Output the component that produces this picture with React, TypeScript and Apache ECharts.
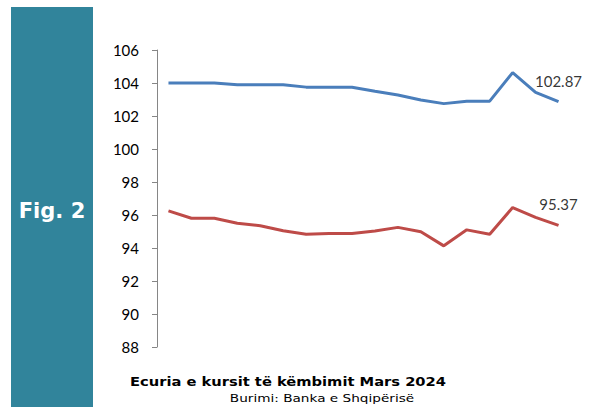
import React, { useEffect, useRef } from "react";
import * as echarts from "echarts";

const categories = ["1","2","3","4","5","6","7","8","9","10","11","12","13","14","15","16","17","18"];
const blueSeries = [104.0, 104.0, 104.0, 103.9, 103.9, 103.9, 103.75, 103.75, 103.74, 103.5, 103.27, 102.97, 102.75, 102.9, 102.9, 104.63, 103.43, 102.87];
const redSeries = [96.25, 95.8, 95.8, 95.5, 95.35, 95.05, 94.83, 94.88, 94.88, 95.03, 95.25, 94.99, 94.13, 95.1, 94.83, 96.45, 95.86, 95.37];
const yMin = 88;
const yMax = 106;
const yInterval = 2;
const titleText = "Ecuria e kursit të këmbimit Mars 2024";
const sourceText = "Burimi: Banka e Shqipërisë";
const figText = "Fig. 2";

export default function App() {
  const ref = useRef<HTMLDivElement>(null);
  useEffect(() => {
    if (!ref.current) return;
    const chart = echarts.init(ref.current, undefined, { renderer: "svg" });
    const last = categories.length - 1;
    const endPoint = (vals: number[]) => ({
      type: "scatter",
      data: [[categories[last], vals[last]]],
      symbol: "circle",
      symbolSize: 1,
      itemStyle: { color: "transparent" },
      silent: true,
      label: {
        show: true,
        position: "top",
        distance: 13,
        formatter: (p: any) => Number(p.value[1]).toFixed(2),
        color: "#000",
        fontSize: 15,
        fontFamily: "Lato, 'Open Sans', sans-serif",
      },
      z: 5,
    });
    chart.setOption({
      animation: false,
      backgroundColor: "#fff",
      grid: { left: 157, top: 50, right: 22, bottom: 60 },
      xAxis: {
        type: "category",
        data: categories,
        boundaryGap: true,
        axisLine: { show: false },
        axisTick: { show: false },
        axisLabel: { show: false },
        splitLine: { show: false },
      },
      yAxis: {
        type: "value",
        min: yMin,
        max: yMax,
        interval: yInterval,
        axisLine: { show: true, lineStyle: { color: "#868686", width: 1 } },
        axisTick: { show: true, length: 5, lineStyle: { color: "#868686" } },
        axisLabel: {
          color: "#000",
          fontSize: 15,
          margin: 18,
          fontFamily: "Lato, 'Open Sans', sans-serif",
        },
        splitLine: { show: false },
      },
      series: [
        {
          type: "line",
          data: blueSeries,
          symbol: "none",
          lineStyle: { color: "#4A7EBB", width: 3 },
          itemStyle: { color: "#4A7EBB" },
        },
        {
          type: "line",
          data: redSeries,
          symbol: "none",
          lineStyle: { color: "#BE4B48", width: 3 },
          itemStyle: { color: "#BE4B48" },
        },
        endPoint(blueSeries),
        endPoint(redSeries),
      ],
      graphic: [
        {
          type: "rect",
          shape: { x: 11, y: 7, width: 82, height: 400 },
          style: { fill: "#31849B" },
        },
        {
          type: "text",
          x: 52,
          y: 211,
          style: {
            text: figText,
            fill: "#fff",
            fontSize: 21,
            fontWeight: "bold",
            fontFamily: "'DejaVu Sans', sans-serif",
            textAlign: "center",
            textVerticalAlign: "middle",
          },
        },
        {
          type: "text",
          x: 288,
          y: 381,
          scaleX: 1.13,
          style: {
            text: titleText,
            fill: "#000",
            fontSize: 13,
            fontWeight: "bold",
            fontFamily: "'DejaVu Sans', sans-serif",
            textAlign: "center",
            textVerticalAlign: "middle",
          },
        },
        {
          type: "text",
          x: 322,
          y: 398,
          scaleX: 1.24,
          style: {
            text: sourceText,
            fill: "#000",
            fontSize: 11,
            fontFamily: "'DejaVu Sans', sans-serif",
            textAlign: "center",
            textVerticalAlign: "middle",
          },
        },
      ],
    });
    return () => chart.dispose();
  }, []);
  return (
    <div
      ref={ref}
      style={{ position: "absolute", left: 0, top: 0, width: 592, height: 407 }}
    />
  );
}
